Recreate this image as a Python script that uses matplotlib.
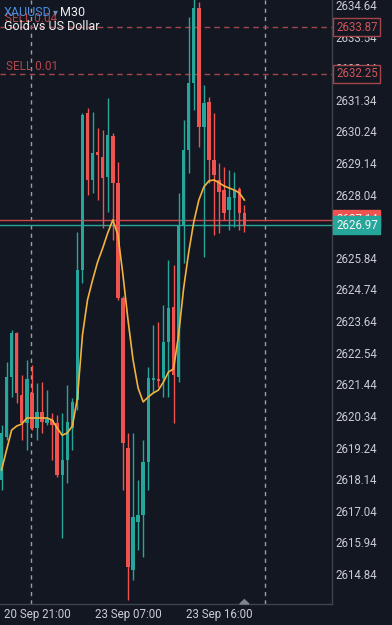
import numpy as np
import matplotlib
matplotlib.use('Agg')
import matplotlib.pyplot as plt
from matplotlib.transforms import blended_transform_factory
from matplotlib.patches import Polygon

plt.rcParams['font.family'] = ['Roboto', 'DejaVu Sans']

# ---- data (M30 bars, XAUUSD) ----
opens = [2618.11, 2619.61, 2621.70, 2623.23, 2621.07, 2620.09, 2621.14, 2619.92, 2620.48, 2620.09,
         2620.20, 2620.09, 2618.28, 2618.80, 2619.92, 2620.89, 2625.42, 2630.88, 2628.55, 2629.53,
         2629.35, 2628.66, 2630.08, 2628.45, 2624.44, 2619.23, 2614.98, 2616.65, 2616.89, 2618.74,
         2621.59, 2621.63, 2621.66, 2622.91, 2624.13, 2621.70, 2626.98, 2629.59, 2631.93, 2634.54,
         2630.40, 2631.27, 2629.25, 2628.55, 2628.20, 2627.51, 2627.92, 2628.24, 2627.40]
highs = [2620.03, 2622.22, 2623.33, 2623.26, 2621.77, 2622.29, 2622.11, 2621.49, 2621.52, 2621.24,
         2620.44, 2620.37, 2620.44, 2621.42, 2620.96, 2626.74, 2630.88, 2631.06, 2630.92, 2630.36,
         2630.29, 2631.41, 2630.19, 2629.18, 2624.52, 2619.75, 2619.75, 2618.11, 2619.50, 2622.04,
         2623.50, 2623.61, 2624.20, 2625.77, 2625.59, 2628.10, 2630.64, 2634.22, 2634.85, 2634.74,
         2631.86, 2631.44, 2630.88, 2629.14, 2629.00, 2628.90, 2628.83, 2628.31, 2627.68]
lows = [2617.76, 2619.50, 2621.00, 2620.79, 2619.50, 2619.16, 2619.85, 2619.50, 2619.75, 2620.03,
        2618.80, 2618.22, 2616.09, 2618.01, 2619.16, 2620.55, 2624.97, 2628.03, 2628.10, 2627.86,
        2626.88, 2627.44, 2626.46, 2624.38, 2617.76, 2613.94, 2614.63, 2615.67, 2615.43, 2617.76,
        2621.14, 2621.35, 2621.00, 2621.00, 2620.09, 2621.52, 2625.66, 2628.79, 2630.99, 2629.70,
        2625.87, 2628.45, 2626.64, 2626.71, 2627.16, 2626.81, 2626.92, 2626.81, 2626.74]
closes = [2619.75, 2621.70, 2623.23, 2621.14, 2620.09, 2621.63, 2619.92, 2620.48, 2620.13, 2620.23,
          2620.03, 2618.28, 2618.80, 2620.13, 2620.83, 2625.42, 2630.81, 2628.55, 2629.49, 2629.42,
          2628.62, 2630.12, 2628.45, 2624.44, 2619.40, 2615.08, 2616.83, 2616.89, 2618.74, 2621.66,
          2621.66, 2621.56, 2622.91, 2624.09, 2621.77, 2626.98, 2629.59, 2631.93, 2634.54, 2630.40,
          2631.23, 2629.25, 2628.72, 2628.13, 2627.40, 2627.96, 2628.20, 2627.40, 2626.97]
ma_values = [2618.46, 2619.16, 2619.85, 2619.99, 2620.06, 2620.27, 2620.27, 2620.27, 2620.27, 2620.27,
             2620.20, 2619.92, 2619.67, 2619.75, 2619.99, 2620.96, 2623.16, 2624.38, 2625.07, 2625.70,
             2626.18, 2626.71, 2627.16, 2626.64, 2625.25, 2623.68, 2622.29, 2621.31, 2620.83, 2621.00,
             2621.14, 2621.24, 2621.52, 2621.87, 2621.98, 2623.16, 2624.79, 2626.04, 2627.09, 2627.85,
             2628.31, 2628.52, 2628.55, 2628.45, 2628.34, 2628.27, 2628.20, 2628.10, 2627.85]

price_ticks = [2634.64, 2633.54, 2632.44, 2631.34, 2630.24, 2629.14, 2628.04, 2626.94, 2625.84,
               2624.74, 2623.64, 2622.54, 2621.44, 2620.34, 2619.24, 2618.14, 2617.04, 2615.94, 2614.84]
time_tick_bars = [7, 25, 43]
time_tick_labels = ["20 Sep 21:00", "23 Sep 07:00", "23 Sep 16:00"]
separator_bars = [5.83, 52.1]
sell_levels = [2633.87, 2632.25]
sell_labels = ["SELL 0.04", "SELL 0.01"]
bid_price = 2626.97
ask_price = 2627.14
current_bar = 48

# ---- style ----
BG = '#131722'
UP = '#26a69a'
DN = '#ef5350'
TXT = '#c9ccd1'

fig = plt.figure(figsize=(3.92, 6.25), dpi=100, facecolor=BG)
ax = fig.add_axes([0, 21 / 625, 332 / 392, 604 / 625], facecolor=BG)

x = np.arange(len(opens))
o = np.array(opens); c = np.array(closes); h = np.array(highs); l = np.array(lows)
cols = np.where(c >= o, UP, DN)

ax.set_xlim(-0.30, 65.32)
ax.set_ylim(2613.80, 2634.81)

# grid / separator lines
for sb in separator_bars:
    ax.axvline(sb, color='#9aa0a8', lw=1.0, ls=(0, (3, 3)), zorder=1)
for lv in sell_levels:
    ax.axhline(lv, color='#a3454b', lw=1.0, ls=(0, (4, 3)), zorder=2)
ax.axhline(ask_price, color='#d0464d', lw=1.0, zorder=2)
ax.axhline(bid_price, color=UP, lw=1.0, zorder=2)

# candles
ax.vlines(x, l, h, colors=cols, linewidth=1.0, zorder=3)
body_bottom = np.minimum(o, c)
body_h = np.maximum(np.abs(c - o), 0.04)
ax.bar(x, body_h, bottom=body_bottom, width=0.68, color=cols, linewidth=0, zorder=4)

# moving average
ax.plot(x, ma_values, color='#f2b33d', lw=1.2, zorder=5, solid_joinstyle='round')

# spines
for s in ['top', 'left']:
    ax.spines[s].set_visible(False)
for s in ['right', 'bottom']:
    ax.spines[s].set_color('#3d424b')
    ax.spines[s].set_linewidth(1.0)

ax.yaxis.tick_right()
ax.set_yticks(price_ticks)
ax.set_yticklabels([f"{p:.2f}" for p in price_ticks])
ax.tick_params(axis='y', length=0, pad=2.5, labelsize=8.3, labelcolor=TXT)
ax.set_xticks(time_tick_bars)
ax.set_xticklabels(time_tick_labels)
ax.tick_params(axis='x', length=0, pad=3.0, labelsize=8.3, labelcolor=TXT)

# current bar marker
ax.add_patch(Polygon([(current_bar - 0.9, 2613.80), (current_bar + 0.9, 2613.80),
                      (current_bar, 2613.95)], closed=True, color='#7f858e',
                     zorder=6, clip_on=False))

# price boxes on the right
tr = blended_transform_factory(ax.transAxes, ax.transData)
for lv in sell_levels:
    ax.text(1.012, lv, f"{lv:.2f}", transform=tr, ha='left', va='center', fontsize=8.3,
            color='#d0555a', zorder=10, clip_on=False,
            bbox=dict(boxstyle='square,pad=0.22', fc=BG, ec='#a3454b', lw=1.0))
ax.text(1.012, ask_price + 0.05, f"{ask_price:.2f}", transform=tr, ha='left', va='center',
        fontsize=8.3, color='#f5f5f5', zorder=10, clip_on=False,
        bbox=dict(boxstyle='square,pad=0.22', fc=DN, ec=DN, lw=1.0))
ax.text(1.012, bid_price, f"{bid_price:.2f}", transform=tr, ha='left', va='center',
        fontsize=8.3, color='#f5f5f5', zorder=11, clip_on=False,
        bbox=dict(boxstyle='square,pad=0.22', fc=UP, ec=UP, lw=1.0))

# header texts
W, H = 392, 625
def fx(px):
    return px / W
def fy(py):
    return 1 - py / H

fig.text(fx(5), fy(18), sell_labels[0], color='#b4474c', fontsize=8.5, va='center', ha='left', zorder=1)
fig.text(fx(6), fy(67), sell_labels[1], color='#b4474c', fontsize=8.5, va='center', ha='left')
fig.text(fx(4), fy(12.5), "XAUUSD", color='#4a8fe0', fontsize=9, va='center', ha='left', zorder=3)
fig.text(fx(53), fy(12.5), "▾", color='#6f8fb8', fontsize=7, va='center', ha='left', zorder=3)
fig.text(fx(60), fy(12.5), "M30", color='#eeeeee', fontsize=9, va='center', ha='left', zorder=3)
fig.text(fx(4), fy(27), "Gold vs US Dollar", color='#eeeeee', fontsize=9, va='center', ha='left', zorder=3)

fig.savefig('out.png', dpi=100, facecolor=BG)
